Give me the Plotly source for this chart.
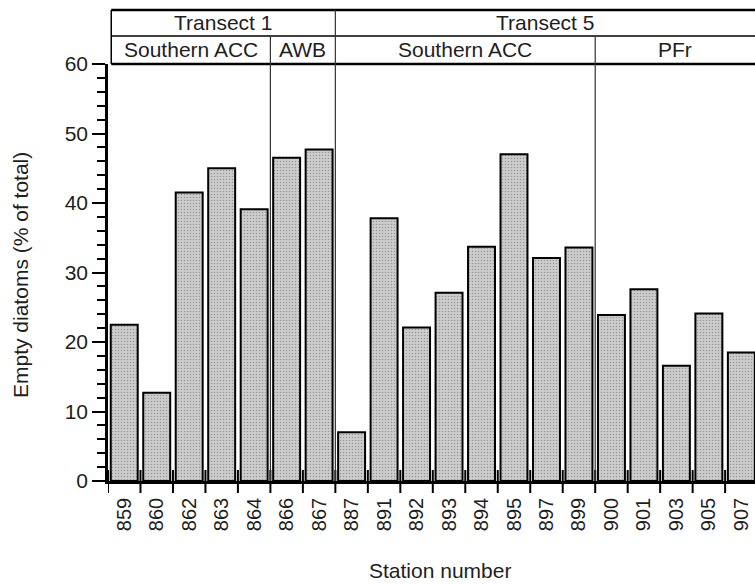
import plotly.graph_objects as go

# Station numbers and share of empty diatoms (% of total)
stations = ["859", "860", "862", "863", "864", "866", "867",
            "887", "891", "892", "893", "894", "895", "897", "899",
            "900", "901", "903", "905", "907"]
empty_pct = [22.5, 12.7, 41.5, 45.0, 39.1, 46.5, 47.7,
             7.0, 37.8, 22.1, 27.1, 33.7, 47.0, 32.1, 33.6,
             23.9, 27.6, 16.6, 24.1, 18.5]

# Header groups: (label, first station index, last station index)
transects = [("Transect 1", 0, 6), ("Transect 5", 7, 19)]
zones = [("Southern ACC", 0, 4), ("AWB", 5, 6),
         ("Southern ACC", 7, 14), ("PFr", 15, 19)]

FONT = "Liberation Sans, Arial, sans-serif"
TEXT = "#1e1e1e"
W, H = 755, 584
ML, MR, MT, MB = 108, 0, 64, 103
plot_h = H - MT - MB
x_lo, x_hi = -0.5, 19.42
left_edge = -0.4


def py(px_above_top):
    """Paper y for a distance in pixels above the plot top."""
    return 1 + px_above_top / plot_h


xpos = list(range(len(stations)))

fig = go.Figure()
fig.add_trace(go.Bar(
    x=xpos, y=empty_pct,
    marker=dict(color="#c9c9c9",
                line=dict(color="black", width=2),
                pattern=dict(shape=".", fgcolor="#666666", bgcolor="#cdcdcd",
                             size=3, solidity=0.22)),
    width=0.83,
    hoverinfo="x+y",
))

shapes = []
# boundary tick marks between stations, crossing the x axis
for i in range(len(stations) + 1):
    b = i - 0.5
    if b > x_hi:
        continue
    shapes.append(dict(type="line", xref="x", yref="paper", x0=b, x1=b,
                       y0=-12 / plot_h, y1=11 / plot_h,
                       line=dict(color="black", width=2)))

# header frame
y_top, y_mid = py(54), py(28)
for yv, w in [(y_top, 2.5), (y_mid, 1.5), (1.0, 2.5)]:
    shapes.append(dict(type="line", xref="x", yref="paper", x0=left_edge,
                       x1=x_hi, y0=yv, y1=yv, line=dict(color="black", width=w)))
shapes.append(dict(type="line", xref="x", yref="paper", x0=left_edge,
                   x1=left_edge, y0=1.0, y1=y_top,
                   line=dict(color="black", width=1.5)))

annotations = []
# transect row
for name, a, b in transects:
    lo = left_edge if a == 0 else a - 0.5
    hi = x_hi if b == len(stations) - 1 else b + 0.5
    if a > 0:
        shapes.append(dict(type="line", xref="x", yref="paper", x0=lo, x1=lo,
                           y0=0, y1=y_top, line=dict(color="#333", width=1.2)))
    annotations.append(dict(text=name, xref="x", yref="paper",
                            x=(lo + hi) / 2, y=py(41), showarrow=False,
                            font=dict(size=21, family=FONT, color=TEXT),
                            yanchor="middle"))
# zone row
transect_starts = {a for _, a, _ in transects}
for name, a, b in zones:
    lo = left_edge if a == 0 else a - 0.5
    hi = x_hi if b == len(stations) - 1 else b + 0.5
    if a > 0 and a not in transect_starts:
        shapes.append(dict(type="line", xref="x", yref="paper", x0=lo, x1=lo,
                           y0=0, y1=y_mid, line=dict(color="#333", width=1.2)))
    annotations.append(dict(text=name, xref="x", yref="paper",
                            x=(lo + hi) / 2, y=py(14), showarrow=False,
                            font=dict(size=21, family=FONT, color=TEXT),
                            yanchor="middle"))

# axis titles
annotations.append(dict(text="Empty diatoms (% of total)", xref="paper",
                        yref="paper", x=(20 - ML) / (W - ML - MR), y=0.494,
                        textangle=-90, showarrow=False, xanchor="center",
                        yanchor="middle",
                        font=dict(size=21, family=FONT, color=TEXT)))
annotations.append(dict(text="Station number", xref="paper", yref="paper",
                        x=(440 - ML) / (W - ML - MR), y=-(570 - (H - MB)) / plot_h,
                        showarrow=False, xanchor="center", yanchor="middle",
                        font=dict(size=21, family=FONT, color=TEXT)))

fig.update_layout(
    width=W, height=H,
    margin=dict(l=ML, r=MR, t=MT, b=MB, pad=0),
    paper_bgcolor="white", plot_bgcolor="white",
    showlegend=False,
    bargap=0.17,
    font=dict(family=FONT, size=20, color=TEXT),
    shapes=shapes, annotations=annotations,
    xaxis=dict(range=[x_lo, x_hi], tickvals=xpos, ticktext=stations,
               tickangle=-90, ticks="outside", ticklen=6,
               tickcolor="rgba(0,0,0,0)", showgrid=False, zeroline=False,
               showline=True, linecolor="black", linewidth=2.5,
               tickfont=dict(size=20, family=FONT, color=TEXT),
               fixedrange=True),
    yaxis=dict(range=[0, 60], dtick=10, tick0=0, ticks="outside", ticklen=13,
               tickwidth=2, tickcolor="black",
               minor=dict(dtick=2, ticks="outside", ticklen=8, tickwidth=1.5,
                          tickcolor="black", showgrid=False),
               showgrid=False, zeroline=False, showline=True,
               linecolor="black", linewidth=2.5,
               tickfont=dict(size=21, family=FONT, color=TEXT),
               fixedrange=True),
)

fig.write_html("out.html")
